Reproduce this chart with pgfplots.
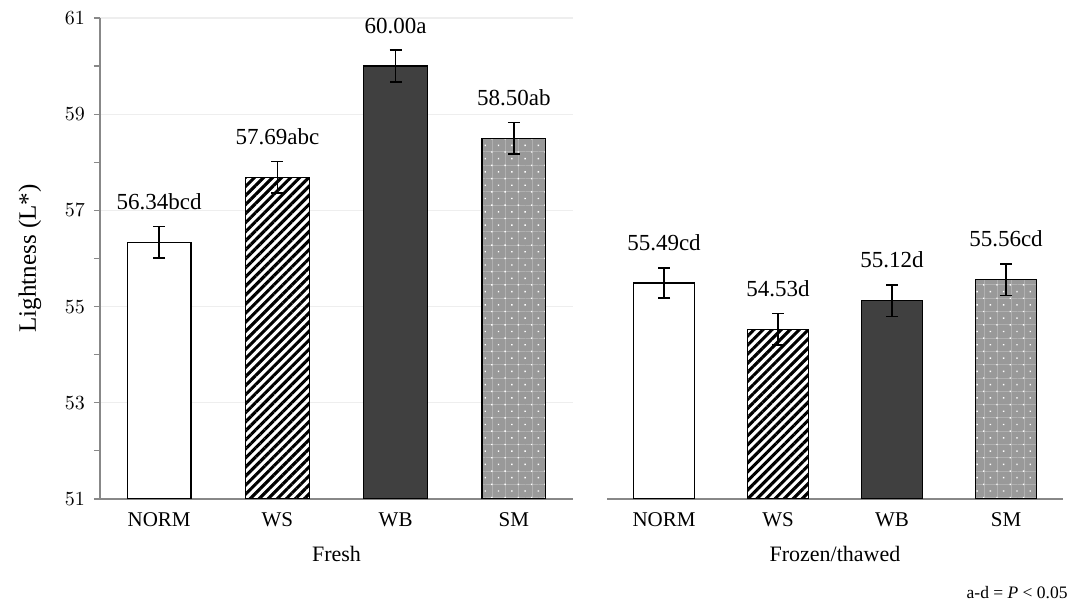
\documentclass[border=0pt]{standalone}
\usepackage{fontspec}
\setmainfont{Liberation Serif}
\usepackage{pgfplots}
\pgfplotsset{compat=1.18}
\usepackage{pgfplotstable}
\usetikzlibrary{patterns.meta}

\definecolor{axisgray}{HTML}{888888}
\definecolor{gridgray}{HTML}{EEEEEE}
\definecolor{wbgray}{HTML}{404040}
\definecolor{smgray}{HTML}{999999}
\definecolor{smline}{HTML}{B0B0B0}

% x, mean, error, label
\pgfplotstableread{
x y e lab
0 56.34 0.33 56.34bcd
1 57.69 0.33 57.69abc
2 60.00 0.33 60.00a
3 58.50 0.33 58.50ab
}\fresh
\pgfplotstableread{
x y e lab
0 55.49 0.31 55.49cd
1 54.53 0.33 54.53d
2 55.12 0.33 55.12d
3 55.56 0.33 55.56cd
}\frozen

\pgfplotsset{
  panel/.style={
    scale only axis,
    width=236.5pt, height=240.5pt,
    ymin=51, ymax=61,
    xmin=-0.5, xmax=3.5,
    ytick={51,53,...,61},
    minor ytick={52,54,...,60},
    ymajorgrids=true,
    major grid style={gridgray, line width=0.6pt},
    tick align=outside,
    axis x line*=bottom,
    x axis line style={axisgray, line width=0.8pt, -},
    xtick={0,1,2,3},
    xticklabels={NORM,WS,WB,SM},
    major x tick style={draw=none},
    xticklabel style={font=\fontsize{10.5}{11}\selectfont, anchor=base, yshift=-11pt},
    xlabel style={font=\fontsize{11}{12}\selectfont, at={(axis description cs:0.5,0)}, anchor=base, yshift=-31.5pt},
    point meta=explicit symbolic,
    nodes near coords,
    every node near coord/.append style={font=\fontsize{11.5}{12}\selectfont, anchor=base, yshift=16.5pt, black},
    every axis plot/.append style={ybar, bar width=0.54, bar shift=0pt, draw=black, line width=0.6pt,
      error bars/y dir=both, error bars/y explicit,
      error bars/error bar style={black, line width=0.75pt},
      error bars/error mark options={rotate=90, mark size=3pt, black, line width=0.75pt}},
  },
  normbar/.style={fill=white},
  wsbar/.style={fill=white, pattern={Lines[angle=45, distance=3.2pt, line width=1.55pt]}, pattern color=black},
  wbbar/.style={fill=wbgray},
  smbar/.style={fill=smgray,
    postaction={pattern={Hatch[angle=0, distance=6.65pt, line width=0.3pt]}, pattern color=smline},
    postaction={pattern={Dots[angle=45, distance=4.7pt, radius=0.5pt]}, pattern color=white}},
}

\begin{document}
\begin{tikzpicture}
  \begin{axis}[panel, name=fresh,
    axis y line*=left,
    y axis line style={axisgray, line width=0.8pt, -},
    major y tick style={axisgray, line width=0.6pt},
    minor y tick style={axisgray, line width=0.6pt},
    major tick length=3pt, minor tick length=3pt,
    yticklabel style={font=\fontsize{10}{11}\selectfont, xshift=-1pt},
    ylabel={Lightness (L*)},
    ylabel style={font=\fontsize{12.5}{14}\selectfont, at={(axis description cs:0,0.5)}, anchor=center, yshift=35pt},
    xlabel={Fresh},
  ]
    \addplot[normbar] table[x=x, y=y, y error=e, meta=lab, skip coords between index={1}{4}] {\fresh};
    \addplot[wsbar] table[x=x, y=y, y error=e, meta=lab, skip coords between index={0}{1}, skip coords between index={2}{4}] {\fresh};
    \addplot[wbbar] table[x=x, y=y, y error=e, meta=lab, skip coords between index={0}{2}, skip coords between index={3}{4}] {\fresh};
    \addplot[smbar] table[x=x, y=y, y error=e, meta=lab, skip coords between index={0}{3}] {\fresh};
  \end{axis}

  \begin{axis}[panel, name=frozen,
    at={(253.5pt,0pt)}, anchor=south west,
    width=228pt,
    axis y line=none,
    major tick length=3pt,
    xlabel={Frozen/thawed},
  ]
    \addplot[normbar] table[x=x, y=y, y error=e, meta=lab, skip coords between index={1}{4}] {\frozen};
    \addplot[wsbar] table[x=x, y=y, y error=e, meta=lab, skip coords between index={0}{1}, skip coords between index={2}{4}] {\frozen};
    \addplot[wbbar] table[x=x, y=y, y error=e, meta=lab, skip coords between index={0}{2}, skip coords between index={3}{4}] {\frozen};
    \addplot[smbar] table[x=x, y=y, y error=e, meta=lab, skip coords between index={0}{3}] {\frozen};
  \end{axis}

  \node[anchor=base east, font=\fontsize{8.75}{10}\selectfont, inner sep=0pt]
    at ([xshift=2.5pt, yshift=-50pt]frozen.south east) {a-d = \textit{P} < 0.05};

  \path[use as bounding box] (-50pt,-52.5pt) rectangle (485.5pt,249.5pt);
\end{tikzpicture}
\end{document}
